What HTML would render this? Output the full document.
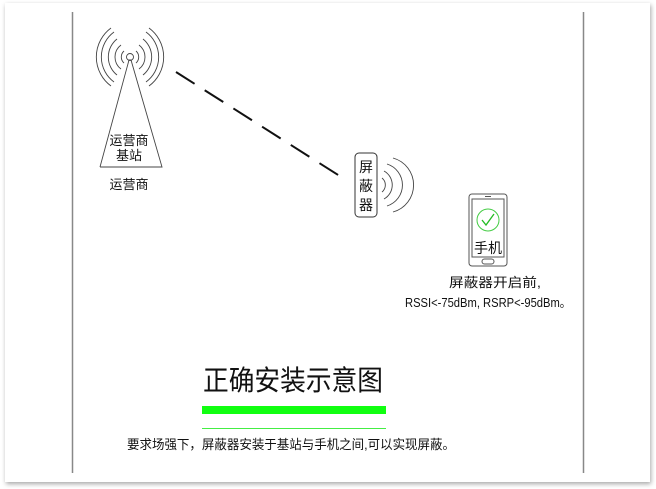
<!DOCTYPE html>
<html><head><meta charset="utf-8"><style>
body{margin:0;width:656px;height:489px;background:#fff;overflow:hidden;}
svg{display:block}
text{font-family:"Liberation Sans","Noto Sans CJK SC",sans-serif;fill:#111}
</style></head><body>
<svg width="656" height="489" viewBox="0 0 656 489">
<defs><filter id="sh" x="-5%" y="-5%" width="110%" height="110%"><feDropShadow dx="1" dy="2" stdDeviation="2.5" flood-color="#000" flood-opacity="0.35"/></filter></defs>
<rect x="5" y="3" width="645" height="479" fill="#fff" filter="url(#sh)"/>
<line x1="72.5" y1="12" x2="72.5" y2="473" stroke="#888" stroke-width="1.5"/>
<line x1="583.5" y1="12" x2="583.5" y2="473" stroke="#888" stroke-width="1.5"/>
<g fill="none" stroke="#444" stroke-width="0.9">
<circle cx="130" cy="57" r="3.5"/>
<polyline points="100,167 129,60 131,60 162,167 100,167"/>
<path d="M124,51 A8,8 0 0 0 124,63 M136,51 A8,8 0 0 1 136,63"/>
<path d="M121,45 A15,15 0 0 0 121,69 M139,45 A15,15 0 0 1 139,69"/>
<path d="M117,39 A23,23 0 0 0 117,75 M143,39 A23,23 0 0 1 143,75"/>
<path d="M114,32 A31,31 0 0 0 114,82 M146,32 A31,31 0 0 1 146,82"/>
<path d="M111,28 A36,36 0 0 0 111,86 M149,28 A36,36 0 0 1 149,86"/>
</g>
<text x="129" y="145" font-size="13" text-anchor="middle">运营商</text>
<text x="129" y="160" font-size="13" text-anchor="middle">基站</text>
<text x="129" y="189" font-size="13" text-anchor="middle">运营商</text>
<line x1="176" y1="72" x2="346" y2="180" stroke="#111" stroke-width="2" stroke-dasharray="22,12"/>
<rect x="355" y="153" width="22" height="64" rx="4" fill="none" stroke="#333" stroke-width="1"/>
<text x="366" y="172" font-size="14" text-anchor="middle">屏</text>
<text x="366" y="191" font-size="14" text-anchor="middle">蔽</text>
<text x="366" y="210" font-size="14" text-anchor="middle">器</text>
<g fill="none" stroke="#444" stroke-width="0.9">
<path d="M382,178 A9,9 0 0 1 382,192"/>
<path d="M384,171 A16,16 0 0 1 384,199"/>
<path d="M387,164 A22,22 0 0 1 387,206"/>
<path d="M393,158 A28,28 0 0 1 393,212"/>
</g>
<rect x="469" y="194" width="38" height="72" rx="3" fill="none" stroke="#555" stroke-width="1"/>
<rect x="472" y="199" width="32" height="58" fill="none" stroke="#555" stroke-width="1"/>
<line x1="485" y1="196.5" x2="491" y2="196.5" stroke="#555" stroke-width="1"/>
<rect x="482" y="259" width="12" height="5" rx="2.5" fill="none" stroke="#555" stroke-width="1"/>
<circle cx="488" cy="220" r="11" fill="none" stroke="#4c4" stroke-width="1"/>
<path d="M482,220 L486,225 L494,214" fill="none" stroke="#2b2" stroke-width="1.3"/>
<text x="488" y="253" font-size="14" text-anchor="middle">手机</text>
<text x="449" y="287" font-size="13" textLength="92" lengthAdjust="spacingAndGlyphs">屏蔽器开启前,</text>
<text x="405" y="307" font-size="13" textLength="166" lengthAdjust="spacingAndGlyphs" font-family="Liberation Serif,'Noto Serif CJK SC',serif">RSSI&lt;-75dBm, RSRP&lt;-95dBm。</text>
<text x="203" y="390" font-size="28" textLength="180" lengthAdjust="spacingAndGlyphs">正确安装示意图</text>
<rect x="202" y="406" width="184" height="8" fill="#1f1"/>
<line x1="202" y1="428.5" x2="386" y2="428.5" stroke="#4e4" stroke-width="1"/>
<text x="127" y="449" font-size="13" textLength="328" lengthAdjust="spacingAndGlyphs">要求场强下，屏蔽器安装于基站与手机之间,可以实现屏蔽。</text>
</svg>
</body></html>
